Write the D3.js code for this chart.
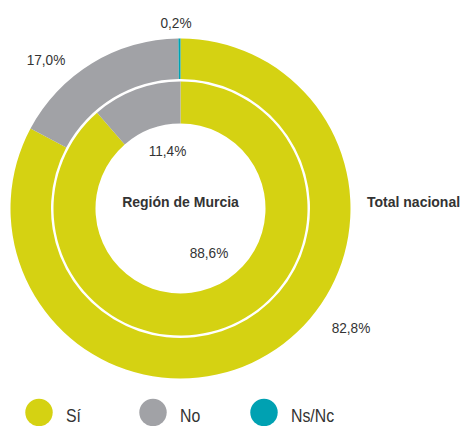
<!DOCTYPE html>
<html>
<head>
<meta charset="utf-8">
<script src="https://cdn.jsdelivr.net/npm/d3@7"></script>
<style>
  body { margin: 0; background: #fff; }
  svg text { font-family: "Liberation Sans", Arial, sans-serif; fill: #333; }
</style>
</head>
<body>
<svg id="chart"></svg>
<script>
// data
var categories = ["Sí", "No", "Ns/Nc"];
var nacional = [82.8, 17.0, 0.2];
var murcia = [88.6, 11.4, 0];
var colors = ["#d5d212", "#a1a2a6", "#00a1b2"];

var width = 460;
var height = 426;
var cx = 180.5, cy = 208.5;

var svg = d3.select("#chart")
            .attr("width", width)
            .attr("height", height);

var pie = d3.pie().sort(null).value(function(d){ return d; });

var color = d3.scaleOrdinal()
              .domain(categories)
              .range(colors);

var outerArc = d3.arc().innerRadius(129.5).outerRadius(170);
var innerArc = d3.arc().innerRadius(85).outerRadius(127);

var g = svg.append("g").attr("transform", "translate(" + cx + "," + cy + ")");

g.append("g").selectAll("path")
  .data(pie(nacional))
  .enter().append("path")
  .attr("d", outerArc)
  .attr("fill", function(d, i){ return color(categories[i]); });

g.append("g").selectAll("path")
  .data(pie(murcia))
  .enter().append("path")
  .attr("d", innerArc)
  .attr("fill", function(d, i){ return color(categories[i]); });

// percentage labels (offsets from the centre), narrowed to look condensed
function fmt(v){ return d3.format(".1f")(v).replace(".", ","); }
function narrow(x, y){ return "translate(" + x + "," + y + ") scale(0.88,1)"; }

var outerLabelOffsets = [[170.5, 118.5], [-134.5, -149.5], [-4.5, -186]];
var innerLabelOffsets = [[28.5, 43.5], [-13, -58.5]];

g.append("g").selectAll("text")
  .data(nacional)
  .enter().append("text")
  .attr("transform", function(d, i){ return narrow(outerLabelOffsets[i][0], outerLabelOffsets[i][1] + 5.5); })
  .attr("text-anchor", "middle")
  .style("font-size", "15.5px")
  .text(function(d){ return fmt(d) + "%"; });

g.append("g").selectAll("text")
  .data(murcia.filter(function(d){ return d > 0; }))
  .enter().append("text")
  .attr("transform", function(d, i){ return narrow(innerLabelOffsets[i][0], innerLabelOffsets[i][1] + 5.5); })
  .attr("text-anchor", "middle")
  .style("font-size", "15.5px")
  .text(function(d){ return fmt(d) + "%"; });

g.append("text")
  .attr("x", 0)
  .attr("y", -1.5)
  .attr("text-anchor", "middle")
  .style("font-size", "14px")
  .style("font-weight", "bold")
  .text("Región de Murcia");

g.append("text")
  .attr("x", 186.5)
  .attr("y", -1.5)
  .style("font-size", "14px")
  .style("font-weight", "bold")
  .text("Total nacional");

// legend
var legendPos = { "Sí": 39, "No": 153, "Ns/Nc": 264 };

var legend = svg.append("g").selectAll("g")
  .data(categories)
  .enter().append("g")
  .attr("transform", function(d){ return "translate(" + legendPos[d] + ",412.5)"; });

legend.append("circle")
  .attr("r", 13.7)
  .attr("fill", function(d){ return color(d); });

legend.append("text")
  .attr("transform", narrow(27, 9.5))
  .style("font-size", "18px")
  .text(function(d){ return d; });
</script>
</body>
</html>
